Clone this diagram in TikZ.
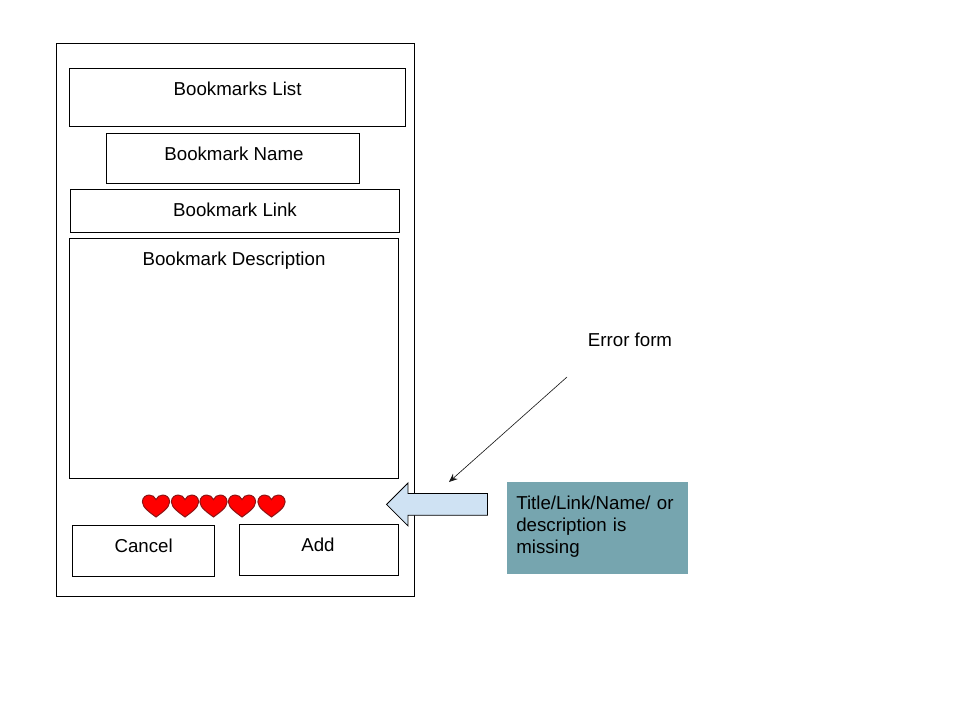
\documentclass[tikz,border=0pt]{standalone}
\usepackage{fontspec}
\setmainfont{Liberation Sans}
\usepackage{xcolor}
\usetikzlibrary{arrows.meta, positioning, shapes.arrows}

\begin{document}
\begin{tikzpicture}[
            % Form boxes
            formbox/.style={draw, line width=0.6pt, inner sep=0pt},
            % Box captions
            caption/.style={font=\fontsize{13.3}{15.6}\selectfont, inner sep=0pt},
            % Error note
            note/.style={fill={rgb,255:red,118;green,165;blue,175}, inner sep=0pt,
                    minimum width=4.525cm, minimum height=2.3cm},
            % Pointer arrow
            arr/.style={-{Stealth[length=6pt, width=5pt]}, line width=0.45pt,
                    color={rgb,255:red,25;green,25;blue,25}},
            % Block arrow
            blockarr/.style={single arrow, shape border rotate=180, draw, line width=0.6pt,
                    fill={rgb,255:red,207;green,226;blue,243},
                    inner xsep=0pt, inner ysep=0.2625cm,
                    minimum width=1.05cm, minimum height=2.525cm,
                    single arrow head extend=0.2625cm, single arrow tip angle=90,
                    single arrow head indent=0cm},
            % Rating heart
            heart/.pic={
                \draw[fill=red, draw={rgb,255:red,140;green,20;blue,20}, line width=0.7pt]
                    (0,-.275) .. controls (-.14,-.17) and (-.34,-.04) .. (-.34,.1)
                    .. controls (-.34,.21) and (-.26,.275) .. (-.17,.275)
                    .. controls (-.09,.275) and (-.03,.23) .. (0,.16)
                    .. controls (.03,.23) and (.09,.275) .. (.17,.275)
                    .. controls (.26,.275) and (.34,.21) .. (.34,.1)
                    .. controls (.34,-.04) and (.14,-.17) .. (0,-.275) -- cycle;
            }
        ]
        \useasboundingbox (0,0) rectangle (24,18);

        % Phone outline
        \node[formbox, minimum width=8.95cm, minimum height=13.825cm] (phone) at (5.8875, 10.0125) {};

        % Fields
        \node[formbox, minimum width=8.4cm, minimum height=1.45cm] (list) at (5.9375, 15.575) {};
        \node[caption] (listtext) at (5.94, 15.78) {Bookmarks List};

        \node[formbox, minimum width=6.325cm, minimum height=1.25cm] (name) at (5.8325, 14.05) {};
        \node[caption] (nametext) at (5.85, 14.15) {Bookmark Name};

        \node[formbox, minimum width=8.225cm, minimum height=1.075cm] (link) at (5.8625, 12.7375) {};
        \node[caption] (linktext) at (5.875, 12.75) {Bookmark Link};

        \node[formbox, minimum width=8.225cm, minimum height=6cm] (desc) at (5.85, 9.05) {};
        \node[caption] (desctext) at (5.85, 11.49) {Bookmark Description};

        % Rating
        \foreach \x in {156, 185, 213.5, 242, 271.5}
            \pic at (\x/40, 5.35) {heart};

        % Buttons
        \node[formbox, minimum width=3.55cm, minimum height=1.275cm] (cancel) at (3.575, 4.2375) {};
        \node[caption] (canceltext) at (3.59, 4.35) {Cancel};

        \node[formbox, minimum width=3.975cm, minimum height=1.275cm] (add) at (7.9625, 4.2625) {};
        \node[caption] (addtext) at (7.95, 4.38) {Add};

        % Error note
        \node[note] (missing) at (14.9375, 4.8) {};
        \node[caption, anchor=west, text width=4.3cm, align=left] (missingtext) at (12.9, 4.825)
            {Title/Link/Name/ or\\description is\\missing};

        \node[blockarr] (back) at (11.0625, 5.39) {};

        % Error label
        \node[caption] (error) at (15.75, 9.5) {Error form};
        \coordinate (errstart) at (14.175, 8.575);
        \coordinate (errend) at (11.225, 5.95);

        % Arrows
        \draw[arr] (errstart) -- (errend);

\end{tikzpicture}
\end{document}
